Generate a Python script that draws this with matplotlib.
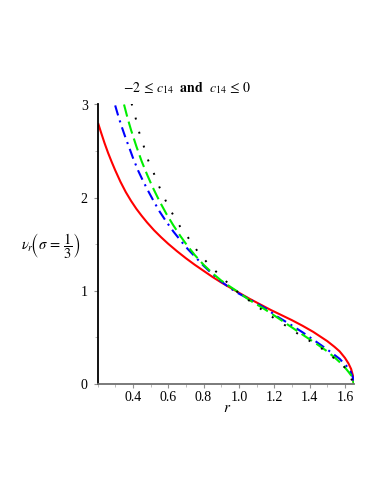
import matplotlib
matplotlib.use("Agg")
import matplotlib.pyplot as plt
from matplotlib.ticker import MultipleLocator

# values
red_r = [0.205, 0.22, 0.24, 0.26, 0.28, 0.30, 0.33, 0.36, 0.39, 0.42, 0.45, 0.48,
         0.52, 0.56, 0.60, 0.65, 0.70, 0.75, 0.80, 0.85, 0.90, 0.95, 1.00, 1.06,
         1.12, 1.18, 1.24, 1.30, 1.36, 1.42, 1.46, 1.50, 1.54, 1.57, 1.60, 1.62,
         1.635, 1.645, 1.65]
red_v = [2.79, 2.70, 2.585, 2.48, 2.385, 2.295, 2.17, 2.06, 1.965, 1.88, 1.805, 1.735,
         1.65, 1.575, 1.505, 1.425, 1.35, 1.28, 1.215, 1.15, 1.09, 1.035, 0.98, 0.915,
         0.855, 0.795, 0.74, 0.685, 0.625, 0.56, 0.51, 0.46, 0.40, 0.35, 0.28, 0.22,
         0.16, 0.09, 0.0]

blue_r = [0.30, 0.32, 0.34, 0.36, 0.38, 0.40, 0.43, 0.46, 0.49, 0.52, 0.55, 0.59,
          0.63, 0.67, 0.71, 0.75, 0.80, 0.85, 0.90, 0.95, 0.99, 1.06, 1.16, 1.22,
          1.29, 1.36, 1.44, 1.50, 1.57, 1.61, 1.63, 1.645, 1.65]
blue_v = [2.99, 2.86, 2.745, 2.635, 2.535, 2.43, 2.29, 2.17, 2.06, 1.955, 1.855, 1.74,
          1.635, 1.54, 1.45, 1.37, 1.27, 1.18, 1.10, 1.03, 0.98, 0.91, 0.80, 0.72,
          0.64, 0.555, 0.45, 0.37, 0.27, 0.19, 0.14, 0.07, 0.0]

green_r = [0.35, 0.37, 0.39, 0.42, 0.45, 0.48, 0.51, 0.55, 0.59, 0.63, 0.67, 0.71,
           0.75, 0.80, 0.85, 0.90, 0.95, 0.99, 1.06, 1.14, 1.22, 1.29, 1.36, 1.44,
           1.50, 1.55, 1.59, 1.62, 1.64, 1.65]
green_v = [3.0, 2.855, 2.725, 2.55, 2.39, 2.25, 2.12, 1.965, 1.825, 1.70, 1.585, 1.48,
           1.385, 1.28, 1.19, 1.11, 1.045, 0.995, 0.90, 0.81, 0.71, 0.62, 0.53, 0.43,
           0.35, 0.27, 0.20, 0.13, 0.08, 0.0]

black_r = [0.393, 0.415, 0.436, 0.462, 0.487, 0.519, 0.551, 0.585, 0.625, 0.667,
           0.717, 0.764, 0.817, 0.874, 0.934, 0.996, 1.062, 1.128, 1.196, 1.27,
           1.341, 1.411, 1.477, 1.543, 1.61, 1.65]
black_v = [3.01, 2.86, 2.70, 2.55, 2.40, 2.26, 2.11, 1.97, 1.825, 1.69, 1.56, 1.43,
           1.31, 1.20, 1.09, 0.98, 0.89, 0.80, 0.71, 0.62, 0.53, 0.45, 0.37, 0.27,
           0.16, 0.0]

x_ticks = [0.4, 0.6, 0.8, 1.0, 1.2, 1.4, 1.6]
y_ticks = [0, 1, 2, 3]

plt.rcParams["font.family"] = ["Liberation Serif", "DejaVu Serif"]
plt.rcParams["mathtext.fontset"] = "stix"

fig = plt.figure(figsize=(3.82, 4.94), dpi=100)
ax = fig.add_axes([97.5 / 382, 1 - 384 / 494, (353.8 - 97.5) / 382, (384 - 104.5) / 494])

ax.plot(red_r, red_v, color="#ff0000", lw=1.5)
ax.plot(blue_r, blue_v, color="#0000ff", lw=1.5, ls=(0, (5, 2.5, 1, 2.5)))
ax.plot(green_r, green_v, color="#00ee00", lw=1.5, ls=(0, (6, 2.5)))
ax.plot(black_r, black_v, color="black", lw=1.4, ls=(0, (1, 6.5)))

ax.set_xlim(0.2, 1.65)
ax.set_ylim(0, 3)
ax.set_xticks(x_ticks)
ax.set_xticklabels([f"{t:.1f}" for t in x_ticks])
ax.set_yticks(y_ticks)
ax.xaxis.set_minor_locator(MultipleLocator(0.1))
ax.yaxis.set_minor_locator(MultipleLocator(0.5))

for side in ("top", "right"):
    ax.spines[side].set_visible(False)
ax.spines["left"].set_color("black")
ax.spines["left"].set_linewidth(1.3)
ax.spines["bottom"].set_color("#707070")
ax.spines["bottom"].set_linewidth(1.3)

ax.tick_params(axis="both", which="major", labelsize=10, length=3, width=0.8,
               color="#909090", pad=2)
ax.tick_params(axis="both", which="minor", length=2, width=0.6, color="#b0b0b0")
ax.tick_params(axis="y", pad=4)

fig.text(187 / 382, 1 - 88 / 494,
         r"$-2\,\leq\,c_{14}$  $\mathbf{and}$  $c_{14}\,\leq\,0$",
         ha="center", va="center", fontsize=10)
fig.text(51 / 382, 1 - 246 / 494, r"$\nu_r\!\left(\sigma\,=\,\dfrac{1}{3}\right)$",
         ha="center", va="center", fontsize=10.5)
fig.text(227 / 382, 1 - 408 / 494, r"$r$", ha="center", va="center", fontsize=11)

fig.savefig("out.png", dpi=100)
